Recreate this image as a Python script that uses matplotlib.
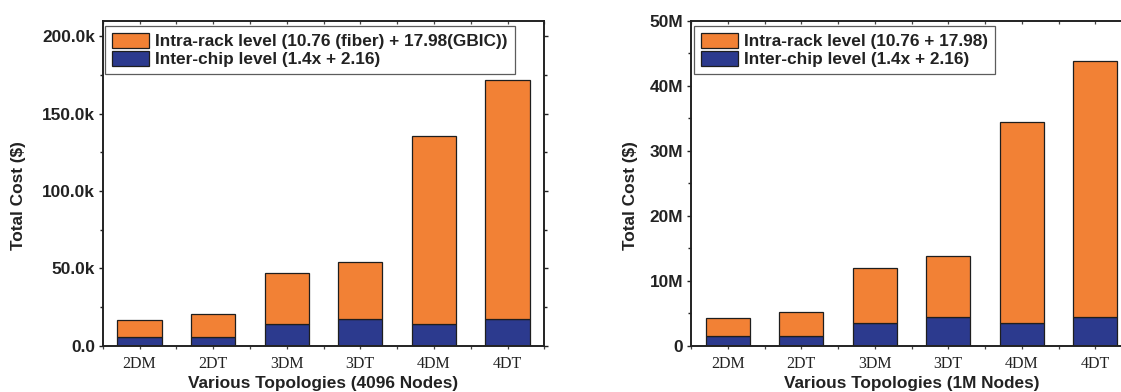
import matplotlib
matplotlib.use("Agg")
import matplotlib.pyplot as plt
from matplotlib.ticker import FixedLocator, FuncFormatter, MultipleLocator, NullFormatter

categories = ['2DM', '2DT', '3DM', '3DT', '4DM', '4DT']

# 4096 nodes (dollars)
inter_4096 = [5.6e3, 5.6e3, 14.0e3, 17.3e3, 14.0e3, 17.3e3]
intra_4096 = [10.8e3, 14.7e3, 32.8e3, 36.6e3, 121.2e3, 154.4e3]

# 1M nodes (dollars)
inter_1m = [1.44e6, 1.44e6, 3.53e6, 4.45e6, 3.53e6, 4.45e6]
intra_1m = [2.76e6, 3.69e6, 8.45e6, 9.35e6, 30.87e6, 39.35e6]

labels_4096 = ['Intra-rack level (10.76 (fiber) + 17.98(GBIC))', 'Inter-chip level (1.4x + 2.16)']
labels_1m = ['Intra-rack level (10.76 + 17.98)', 'Inter-chip level (1.4x + 2.16)']

ORANGE = '#F28135'
BLUE = '#2C3A8E'
EDGE = '#1e1e1e'
SANS = 'Liberation Sans'
SERIF = 'Liberation Serif'
FS = 12.4

W, H = 1121, 392
fig = plt.figure(figsize=(W / 100, H / 100), dpi=100)

def px_axes(x0, x1, ytop, ybot):
    return [x0 / W, 1 - ybot / H, (x1 - x0) / W, (ybot - ytop) / H]

ax1 = fig.add_axes(px_axes(102.7, 544.3, 20.7, 345.7))
ax2 = fig.add_axes(px_axes(691, 1132, 20.7, 345.7))

def draw(ax, inter, intra, labels, ylim, major, minor, fmt, xlabel, ylab_x, leg_x):
    x = list(range(len(categories)))
    b1 = ax.bar(x, inter, width=0.6, color=BLUE, edgecolor=EDGE, linewidth=0.9, zorder=2)
    b2 = ax.bar(x, intra, width=0.6, bottom=inter, color=ORANGE, edgecolor=EDGE, linewidth=0.9, zorder=2)
    ax.set_xlim(-0.5, 5.5)
    ax.set_ylim(*ylim)
    for s in ax.spines.values():
        s.set_linewidth(1.4)
        s.set_color('#222222')
    ax.yaxis.set_major_locator(MultipleLocator(major))
    ax.yaxis.set_minor_locator(MultipleLocator(minor))
    ax.yaxis.set_major_formatter(FuncFormatter(fmt))
    ax.set_xticks(x)
    ax.set_xticklabels(categories, fontfamily=SERIF, fontsize=11.5)
    ax.xaxis.set_minor_locator(FixedLocator([i + 0.5 for i in range(-1, 6)]))
    ax.tick_params(axis='x', which='both', length=2.5, width=0.9, direction='out',
                   bottom=True, top=False, color='#444444')
    ax.tick_params(axis='x', which='major', pad=5)
    ax.tick_params(axis='y', which='both', direction='out', left=True, right=True, width=1, color='#222222')
    ax.tick_params(axis='y', which='major', length=3, pad=2.5)
    ax.tick_params(axis='y', which='minor', length=2.5)
    # inward ticks along the top spine
    top = ax.secondary_xaxis('top')
    top.set_xticks([i * 0.5 for i in range(-1, 12)])
    top.xaxis.set_major_formatter(NullFormatter())
    top.tick_params(axis='x', direction='in', length=2.5, width=0.9, color='#444444')
    top.spines['top'].set_visible(False)
    for lab in ax.get_yticklabels():
        lab.set_fontfamily(SANS)
        lab.set_fontweight('bold')
        lab.set_fontsize(FS)
        lab.set_color('#222222')
    for lab in ax.get_xticklabels():
        lab.set_color('#222222')
    ax.set_xlabel(xlabel, fontfamily=SANS, fontweight='bold', fontsize=FS, color='#222222')
    ax.xaxis.label.set_va('center')
    ax.xaxis.set_label_coords(0.5, -0.1148)
    ax.set_ylabel('Total Cost ($)', fontfamily=SANS, fontweight='bold', fontsize=FS, color='#222222')
    ax.yaxis.label.set_va('center')
    ax.yaxis.set_label_coords(ylab_x, 0.462)
    leg = ax.legend([b2, b1], labels, loc='upper left', bbox_to_anchor=(leg_x, 0.984),
                    borderaxespad=0, frameon=True, fancybox=False, shadow=False,
                    prop={'family': SANS, 'weight': 'bold', 'size': FS},
                    handlelength=2.15, handleheight=1.0, handletextpad=0.35,
                    labelspacing=0.08, borderpad=0.4)
    leg.get_frame().set_edgecolor('#333333')
    leg.get_frame().set_linewidth(0.9)
    for t in leg.get_texts():
        t.set_color('#222222')

draw(ax1, inter_4096, intra_4096, labels_4096, (0, 210e3), 50e3, 25e3,
     lambda v, p: f'{v / 1e3:.1f}k' if v != 0 else '0.0',
     'Various Topologies (4096 Nodes)', -0.1918, 0.006)
draw(ax2, inter_1m, intra_1m, labels_1m, (0, 50e6), 10e6, 5e6,
     lambda v, p: f'{int(round(v / 1e6))}M' if v != 0 else '0',
     'Various Topologies (1M Nodes)', -0.1383, 0.0075)

fig.savefig('out.png', dpi=100)
